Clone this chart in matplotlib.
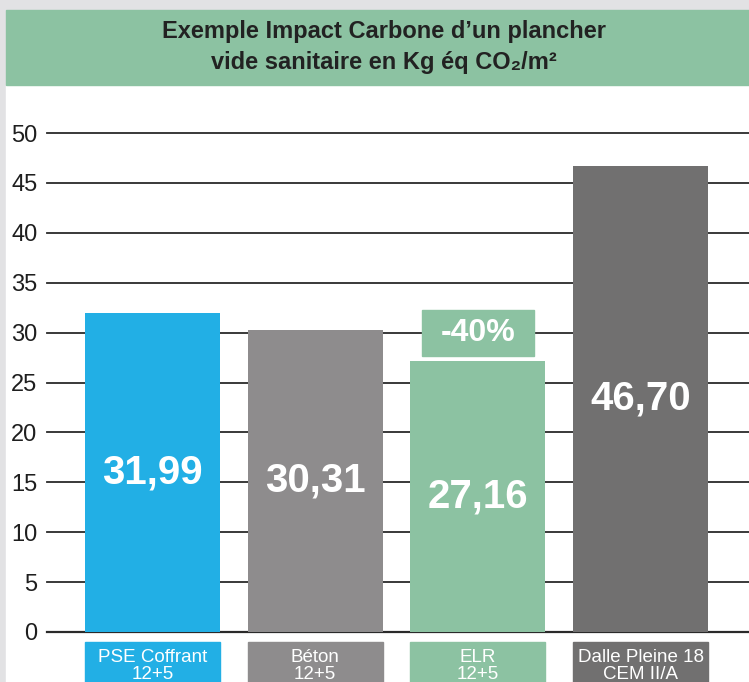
import matplotlib
matplotlib.use("Agg")
import matplotlib.pyplot as plt
from matplotlib.patches import Rectangle

categories = ["PSE Coffrant\n12+5", "Béton\n12+5", "ELR\n12+5", "Dalle Pleine 18\nCEM II/A"]
values = [31.99, 30.31, 27.16, 46.70]
value_labels = ["31,99", "30,31", "27,16", "46,70"]
colors = ["#22afe5", "#8e8c8d", "#8cc2a2", "#717070"]
yticks = [0, 5, 10, 15, 20, 25, 30, 35, 40, 45, 50]
title = "Exemple Impact Carbone d’un plancher\nvide sanitaire en Kg éq CO₂/m²"
delta_label = "-40%"

W, H = 749, 682
green = "#8cc2a2"
sans = ["Liberation Sans", "DejaVu Sans"]
narrow = ["Liberation Sans Narrow", "Liberation Sans", "DejaVu Sans"]

fig = plt.figure(figsize=(W / 100, H / 100), dpi=100)
fig.patch.set_facecolor("#e2e2e4")

# white panel and title band (pixel coords, origin top-left)
def px_rect(x0, y0, x1, y1, color):
    fig.patches.append(Rectangle((x0 / W, 1 - y1 / H), (x1 - x0) / W, (y1 - y0) / H,
                                 transform=fig.transFigure, color=color, zorder=-5))

px_rect(6, 85, W, H, "white")
px_rect(6, 10, W, 85, green)
fig.text(384 / W, 1 - 47 / H, title, ha="center", va="center", fontsize=17,
         fontweight="bold", color="#222222", family=sans, linespacing=1.45)

# axes: y=0 at px 632, y=50 at px 133
ax = fig.add_axes([47 / W, 1 - 632 / H, 1 - 47 / W, (632 - 133) / H])
ax.set_facecolor("none")
ax.set_ylim(0, 50)
ax.set_xlim(-0.648, 3.666)
for s in ax.spines.values():
    s.set_visible(False)
ax.set_xticks([])
ax.set_yticks(yticks)
ax.tick_params(axis="y", length=0, pad=7, labelsize=17, labelcolor="#1e1e1e")
for lab in ax.get_yticklabels():
    lab.set_family(sans)
for t in yticks:
    ax.axhline(t, color="#2a2a2a", lw=1.3 if t else 1.6, zorder=1, clip_on=False)

x = list(range(len(values)))
ax.bar(x, values, width=0.83, color=colors, zorder=2)

for xi, v, lab in zip(x, values, value_labels):
    ax.text(xi, v / 2, lab, ha="center", va="center", color="white",
            fontsize=29, fontweight="bold", family=sans, zorder=3)

# -40% badge above ELR bar
ax.add_patch(Rectangle((x[2] - 0.344, values[2] + 0.5), 0.688, 4.6, color=green, zorder=4))
ax.text(x[2], values[2] + 2.8, delta_label, ha="center", va="center", color="white",
        fontsize=23, fontweight="bold", family=sans, zorder=5)

# category label boxes under the bars
for xi, c, col in zip(x, categories, colors):
    ax.add_patch(Rectangle((xi - 0.415, -1.0), 0.83, -6, color=col, clip_on=False, zorder=2))
    ax.text(xi, -3.4, c, ha="center", va="center", color="white", fontsize=13.5,
            family=narrow, linespacing=1.0, zorder=3, clip_on=False)

fig.savefig("out.png", dpi=100, facecolor=fig.get_facecolor())
